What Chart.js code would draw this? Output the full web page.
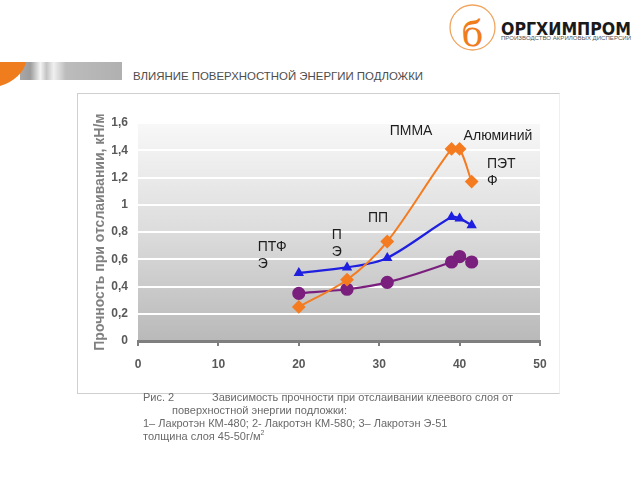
<!DOCTYPE html>
<html>
<head>
<meta charset="utf-8">
<script src="https://cdn.jsdelivr.net/npm/chart.js@4"></script>
<style>
  body { margin: 0; width: 640px; height: 480px; background: #fff; position: relative; overflow: hidden;
         font-family: "Liberation Sans", Arial, sans-serif; }
  #deco { position: absolute; left: 0; top: 0; }
  #frame { position: absolute; left: 77px; top: 93px; width: 481px; height: 299px;
           border-top: 1px solid #cfcfcf; border-left: 1px solid #cfcfcf; border-bottom: 1px solid #cfcfcf;
           border-right: 1px solid #efefef; }
  #peelChart { position: absolute; left: 0; top: 0; }
  .cap { position: absolute; font-size: 11px; line-height: 13px; color: #6a6a6a; white-space: nowrap; }
</style>
</head>
<body>
<svg id="deco" width="640" height="100">
  <defs>
    <linearGradient id="bar" x1="20" y1="0" x2="122" y2="0" gradientUnits="userSpaceOnUse">
      <stop offset="0" stop-color="#a8a8a8"/>
      <stop offset="0.1" stop-color="#9c9c9c"/>
      <stop offset="0.2" stop-color="#f4f4f4"/>
      <stop offset="0.26" stop-color="#c4c4c4"/>
      <stop offset="0.33" stop-color="#f0f0f0"/>
      <stop offset="0.45" stop-color="#bcbcbc"/>
      <stop offset="1" stop-color="#b0b0b0"/>
    </linearGradient>
  </defs>
  <rect x="20" y="62" width="102" height="18" fill="url(#bar)"/>
  <path d="M0,62 H26 C24,72 14,82 0,86 Z" fill="#ef7d1e"/>
  <text x="133" y="80" font-size="11.5" fill="#4d4d4d" textLength="290" lengthAdjust="spacingAndGlyphs">ВЛИЯНИЕ ПОВЕРХНОСТНОЙ ЭНЕРГИИ ПОДЛОЖКИ</text>

  <circle cx="472.5" cy="27.5" r="22.5" fill="none" stroke="#f0a560" stroke-width="1.3"/>
  <text x="472.5" y="46" font-family="DejaVu Serif" font-size="36" fill="#ef7d1e" text-anchor="middle">б</text>
  <text x="501" y="35" font-family="Liberation Sans Narrow, DejaVu Sans Condensed, Liberation Sans" font-weight="bold"
        font-size="18" fill="#1a1a1a" textLength="130" lengthAdjust="spacingAndGlyphs">ОРГХИМПРОМ</text>
  <text x="501" y="40" font-size="4.5" fill="#555" textLength="130" lengthAdjust="spacingAndGlyphs">ПРОИЗВОДСТВО АКРИЛОВЫХ ДИСПЕРСИЙ</text>
</svg>
<div id="frame"></div>
<canvas id="peelChart" width="640" height="480"></canvas>

<div class="cap" style="left:143px; top:391px;">Рис. 2</div>
<div class="cap" style="left:212px; top:391px;">Зависимость прочности при отслаивании клеевого слоя от</div>
<div class="cap" style="left:172px; top:404px;">поверхностной энергии подложки:</div>
<div class="cap" style="left:143px; top:417px;">1– Лакротэн КМ-480; 2- Лакротэн КМ-580; 3– Лакротэн Э-51</div>
<div class="cap" style="left:143px; top:430px;">толщина слоя 45-50г/м<sup style="font-size:7px; line-height:0;">2</sup></div>

<script>
// поверхностная энергия подложки и прочность при отслаивании
const energy = [20, 26, 31, 39, 40, 41.5];
const km480 = [0.25, 0.45, 0.73, 1.41, 1.41, 1.17];
const km580 = [0.50, 0.54, 0.61, 0.91, 0.90, 0.85];
const e51 = [0.35, 0.38, 0.43, 0.58, 0.62, 0.58];

const xTicks = [0, 10, 20, 30, 40, 50];
const yTicks = [0, 0.2, 0.4, 0.6, 0.8, 1, 1.2, 1.4, 1.6];
const yTickLabels = ['0', '0,2', '0,4', '0,6', '0,8', '1', '1,2', '1,4', '1,6'];

// подписи подложек (строки) и их место в единицах осей
const substrates = [['ПТФ', 'Э'], ['П', 'Э'], ['ПП'], ['ПММА'], ['Алюминий'], ['ПЭТ', 'Ф']];
const substrateX = [14.9, 24.1, 28.6, 31.3, 40.5, 43.4];
const substrateY = [0.69, 0.78, 0.90, 1.54, 1.50, 1.30];

const FONT = '"Liberation Sans", Arial, sans-serif';

function points(ys) {
  return energy.map((e, i) => ({ x: e, y: ys[i] }));
}

const plotBackground = {
  id: 'plotBackground',
  beforeDraw(chart) {
    const { ctx, chartArea: a } = chart;
    const g = ctx.createLinearGradient(0, a.top, 0, a.bottom);
    g.addColorStop(0, '#f8f8f8');
    g.addColorStop(0.5, '#dcdcdc');
    g.addColorStop(1, '#b9b9b9');
    ctx.save();
    ctx.fillStyle = g;
    ctx.fillRect(a.left, a.top, a.right - a.left, a.bottom - a.top);
    ctx.restore();
  }
};

const substrateLabels = {
  id: 'substrateLabels',
  afterDatasetsDraw(chart) {
    const { ctx, scales } = chart;
    ctx.save();
    ctx.font = '14px ' + FONT;
    ctx.fillStyle = '#1e1e1e';
    ctx.textAlign = 'left';
    ctx.textBaseline = 'middle';
    substrates.forEach((lines, i) => {
      const px = scales.x.getPixelForValue(substrateX[i]);
      const py = scales.y.getPixelForValue(substrateY[i]);
      lines.forEach((t, k) => ctx.fillText(t, px, py + k * 17));
    });
    ctx.restore();
  }
};

new Chart(document.getElementById('peelChart'), {
  type: 'line',
  data: {
    datasets: [
      {
        label: 'Лакротэн КМ-480',
        data: points(km480),
        borderColor: '#f47b20',
        backgroundColor: '#f47b20',
        borderWidth: 2,
        pointStyle: 'rectRot',
        pointRadius: 5.5,
        tension: 0.3
      },
      {
        label: 'Лакротэн КМ-580',
        data: points(km580),
        borderColor: '#1f1fe0',
        backgroundColor: '#1f1fe0',
        borderWidth: 2.2,
        pointStyle: 'triangle',
        pointRadius: 3.8,
        tension: 0.3
      },
      {
        label: 'Лакротэн Э-51',
        data: points(e51),
        borderColor: '#7a1f7d',
        backgroundColor: '#7a1f7d',
        borderWidth: 2.2,
        pointStyle: 'circle',
        pointRadius: 5.5,
        tension: 0.3
      }
    ]
  },
  options: {
    responsive: false,
    animation: false,
    devicePixelRatio: 1,
    layout: { padding: { left: 88, right: 100, top: 123, bottom: 99 } },
    plugins: { legend: { display: false }, tooltip: { enabled: false } },
    scales: {
      x: {
        type: 'linear',
        min: 0,
        max: 50,
        afterBuildTicks: s => { s.ticks = xTicks.map(v => ({ value: v })); },
        afterFit: s => { s.height = 40; },
        grid: { drawOnChartArea: false, drawTicks: true, tickLength: 5, color: '#7f7f7f', lineWidth: 2 },
        border: { display: true, color: '#7f7f7f', width: 3 },
        ticks: { color: '#595959', padding: 11, maxRotation: 0, font: { family: FONT, size: 12, weight: 'bold' } }
      },
      y: {
        min: 0,
        max: 1.6,
        afterBuildTicks: s => { s.ticks = yTicks.map(v => ({ value: v })); },
        afterFit: s => { s.width = 50; },
        grid: { color: '#ffffff', lineWidth: 2, drawTicks: false },
        border: { display: false },
        ticks: {
          callback: (v, i) => yTickLabels[i],
          color: '#595959',
          padding: 10,
          font: { family: FONT, size: 12, weight: 'bold' }
        },
        title: {
          display: true,
          text: 'Прочность при отслаивании, кН/м',
          color: '#808080',
          padding: { top: 4, bottom: 0 },
          font: { family: FONT, size: 14, weight: 'bold' }
        }
      }
    }
  },
  plugins: [plotBackground, substrateLabels]
});
</script>
</body>
</html>
